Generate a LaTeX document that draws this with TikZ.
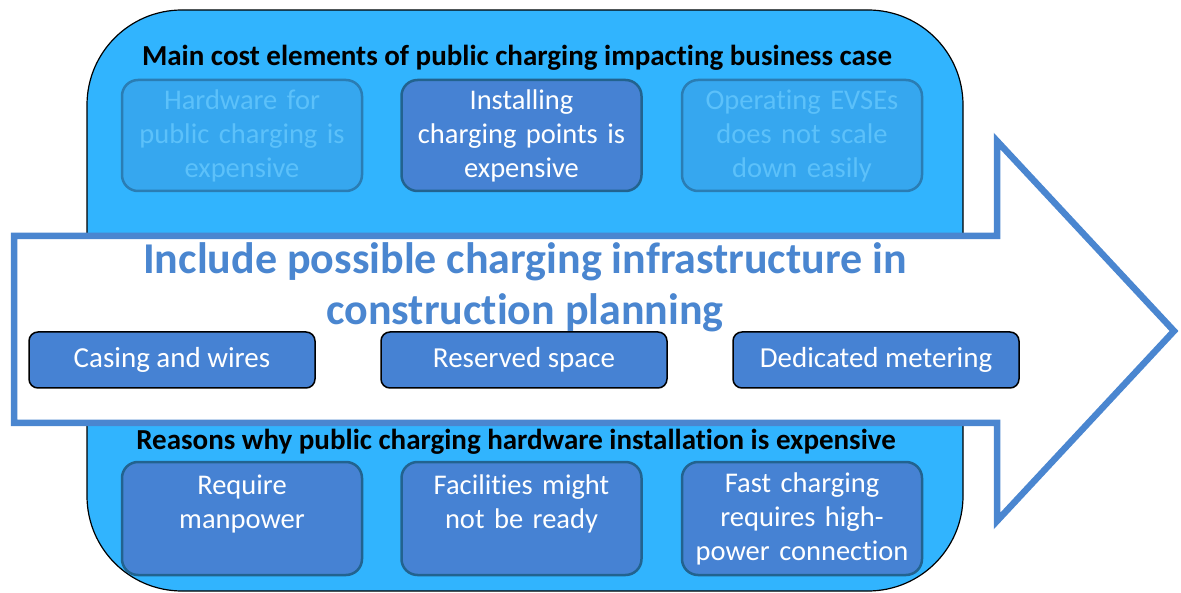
\documentclass[tikz,border=0pt]{standalone}
\usepackage{fontspec}
\setmainfont{Carlito}[Ligatures=NoCommon]
\usepackage{tikz}
\definecolor{panelblue}{HTML}{31B4FE}
\definecolor{boxblue}{HTML}{4682D3}
\definecolor{boxedge}{HTML}{22638F}
\definecolor{fadefill}{HTML}{36A7EF}
\definecolor{fadeedge}{HTML}{2A7DB4}
\definecolor{fadetext}{HTML}{5CC1FA}
\definecolor{arrowblue}{HTML}{4A86D0}

\begin{document}
\begin{tikzpicture}[x=1pt,y=-1pt,
    costbox/.style={draw=boxedge,line width=2.5pt,fill=boxblue,rounded corners=16pt,
      minimum width=240pt,minimum height=111pt,text width=236pt,align=center,
      text=white,font=\fontsize{28.5}{34}\selectfont,inner sep=0pt},
    fadebox/.style={costbox,draw=fadeedge,fill=fadefill,text=fadetext},
    stepbox/.style={draw=black,line width=1.5pt,fill=boxblue,rounded corners=9pt,
      minimum width=286pt,minimum height=56pt,text=white,
      font=\fontsize{29}{34}\selectfont,inner sep=0pt},
    heading/.style={font=\fontsize{29}{34}\selectfont\bfseries}]
    \useasboundingbox (0,0) rectangle (1181,593);

    \draw[fill=panelblue,line width=1.2pt,rounded corners=95pt] (87,10) rectangle (963,591);% panel

    \node[heading] (costtitle) at (517,58) {Main cost elements of public charging impacting business case};
    \node[fadebox] (hardware) at (242,135.5) {Hardware for\\public charging is\\expensive};
    \node[costbox] (installing) at (521.5,135.5) {Installing\\charging points is\\expensive};
    \node[fadebox] (operating) at (802,135.5) {Operating EVSEs\\does not scale\\down easily};

    \node[heading] (reasontitle) at (516,442) {Reasons why public charging hardware installation is expensive};
    \node[costbox,minimum height=113pt] (manpower) at (242,518.5) {Require\\manpower\\~};
    \node[costbox,minimum height=113pt] (facilities) at (521.5,518.5) {Facilities might\\not be ready\\~};
    \node[costbox,minimum height=113pt] (fastcharging) at (802,518.5) {Fast charging\\requires high-\\power connection};

    \draw[arrowblue,fill=white,line width=6.5pt,miter limit=20]% big arrow
    (14,236) -- (997,236) -- (997,141) -- (1174,331) -- (997,521) -- (997,423) -- (14,423) -- cycle;

    \node[text=arrowblue,align=center,font=\fontsize{44}{51}\selectfont\bfseries] (planning)
    at (525,287) {Include possible charging infrastructure in\\construction planning};

    \node[stepbox] (casing) at (172,360) {Casing and wires};
    \node[stepbox] (space) at (524,360) {Reserved space};
    \node[stepbox] (metering) at (876,360) {Dedicated metering};

\end{tikzpicture}
\end{document}
